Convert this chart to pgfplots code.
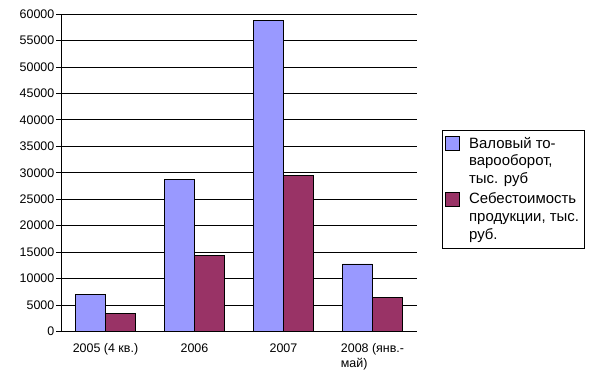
\documentclass[border=0pt]{standalone}
\usepackage{pgfplots}
\pgfplotsset{compat=1.18}
\usepackage{fontspec}
\setmainfont{Liberation Sans}
\definecolor{cblue}{HTML}{9999FF}
\definecolor{cpurp}{HTML}{993366}
\begin{document}
\begin{tikzpicture}
\begin{axis}[
  scale only axis,
  width=356bp, height=317.5bp,
  ymin=0, ymax=60000,
  xmin=-0.5, xmax=3.5,
  ytick={0,5000,...,60000},
  scaled y ticks=false,
  xtick={0,1,2,3},
  xticklabels={2005 (4 кв.),2006,2007,{2008 (янв.-\\май)}},
  minor xtick={-0.5,0.5,1.5,2.5,3.5},
  axis lines*=left,
  axis line style={black, line width=0.8pt},
  ymajorgrids,
  grid style={black, line width=0.8pt},
  tick align=outside,
  major tick length=4.5bp,
  minor tick length=5bp,
  xtick style={draw=none},
  minor x tick style={black, line width=0.8pt},
  ytick style={black, line width=0.8pt},
  /pgf/number format/assume math mode=true,
  y tick label style={/pgf/number format/1000 sep=, font=\fontsize{12.5}{15}\selectfont, inner sep=2bp},
  x tick label style={font=\fontsize{12.5}{15}\selectfont, align=left, yshift=-4bp},
  ybar=0pt,
  bar width=0.337,
  legend style={at={(rel axis cs:1.070,0.636)}, anchor=north west, draw=black, line width=0.8pt,
    font=\fontsize{15}{18}\selectfont, inner xsep=3bp, inner ysep=5bp, row sep=3.5bp,
    cells={anchor=west, align=left}},
  legend image code/.code={\draw[#1, draw=black, line width=0.8pt] (0bp,11bp) rectangle (14bp,25bp); \path (21bp,0bp);},
]
\addplot[fill=cblue, draw=black, line width=0.8pt] coordinates {(0,7080) (1,28680) (2,58730) (3,12760)};
\addlegendentry{Валовый то-\\варооборот,\\тыс. руб}
\addplot[fill=cpurp, draw=black, line width=0.8pt] coordinates {(0,3480) (1,14340) (2,29430) (3,6440)};
\addlegendentry{Себестоимость\\продукции, тыс.\\руб.}
\end{axis}
\path (-61bp,-48bp) rectangle (536bp,331.5bp);
\end{tikzpicture}
\end{document}
